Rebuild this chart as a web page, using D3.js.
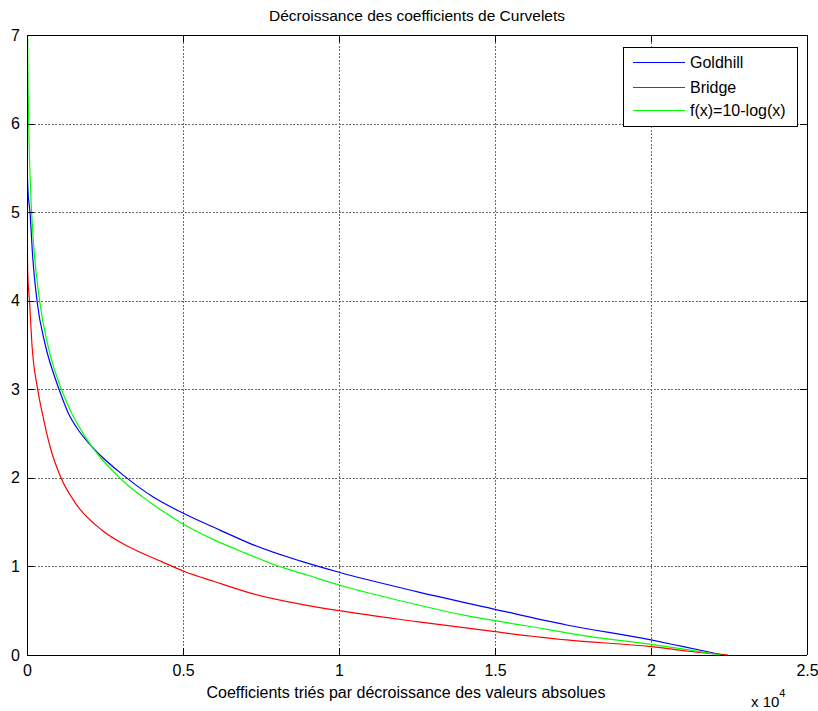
<!DOCTYPE html>
<html>
<head>
<meta charset="utf-8">
<script src="https://cdn.jsdelivr.net/npm/d3@7/dist/d3.min.js"></script>
<style>
html,body{margin:0;padding:0;background:#fff;}
text{font-family:"Liberation Sans",Arial,Helvetica,sans-serif;}
</style>
</head>
<body>
<svg id="chart" width="818" height="711"></svg>
<script>
// ---- data ----
const title = "Décroissance des coefficients de Curvelets";
const xLabel = "Coefficients triés par décroissance des valeurs absolues";
const seriesNames = ["Goldhill", "Bridge", "f(x)=10-log(x)"];
const seriesColors = ["#0000ff", "#ff0000", "#00ff00"];

const goldhillX = [1, 3, 10, 30, 96, 182, 320, 587, 919, 1026, 1325, 1645, 2073, 3195, 3996, 5010, 6186, 7254, 8750, 10000, 12490, 15000, 17297, 20000, 21034, 22310];
const goldhillY = [6.0, 5.6, 5.45, 5.25, 5.0, 4.5, 4.0, 3.5, 3.107, 3.0, 2.73, 2.54, 2.354, 2.0, 1.795, 1.60, 1.41, 1.243, 1.062, 0.934, 0.716, 0.516, 0.339, 0.17, 0.094, 0.0];

const bridgeX = [1, 3, 8, 25, 80, 160, 342, 491, 737, 1090, 1592, 2394, 3248, 4317, 5064, 6000, 7254, 8750, 10000, 12490, 15000, 17297, 20000, 21034, 22470];
const bridgeY = [6.2, 5.5, 4.85, 4.3, 4.0, 3.5, 3.0, 2.73, 2.354, 2.0, 1.695, 1.412, 1.224, 1.054, 0.94, 0.83, 0.69, 0.575, 0.50, 0.377, 0.263, 0.17, 0.094, 0.05, 0.0];

const fX = [1, 3, 10, 20, 50, 100, 200, 400, 700, 1100, 1378, 1800, 3000, 4000, 5000, 6000, 7000, 8000, 9000, 10000, 12000, 14000, 16000, 18000, 20000, 21000, 22250];
const fY = [10.0, 8.9, 7.7, 7.0, 6.09, 5.39, 4.70, 4.01, 3.45, 3.0, 2.77, 2.5, 1.99, 1.71, 1.48, 1.30, 1.15, 1.01, 0.90, 0.79, 0.61, 0.45, 0.33, 0.21, 0.12, 0.07, 0.0];

const xTicks = [0, 5000, 10000, 15000, 20000, 25000];
const xTickLabels = ["0", "0.5", "1", "1.5", "2", "2.5"];
const yTicks = [0, 1, 2, 3, 4, 5, 6, 7];

// ---- layout ----
const L = 27, R = 807, T = 35, B = 655;
const svg = d3.select("#chart");
const x = d3.scaleLinear().domain([0, 25000]).range([L, R]);
const y = d3.scaleLinear().domain([0, 7]).range([B, T]);

// grid
const grid = svg.append("g").attr("stroke", "#6a6a6a").attr("stroke-width", 1).attr("stroke-dasharray", "2,1.5").attr("shape-rendering", "crispEdges");
xTicks.slice(1, -1).forEach(v => grid.append("line").attr("x1", Math.round(x(v))+0.5).attr("x2", Math.round(x(v))+0.5).attr("y1", T).attr("y2", B));
yTicks.slice(1, -1).forEach(v => grid.append("line").attr("x1", L).attr("x2", R).attr("y1", Math.round(y(v))+0.5).attr("y2", Math.round(y(v))+0.5));

// clip
svg.append("clipPath").attr("id", "clip").append("rect").attr("x", L).attr("y", T).attr("width", R-L).attr("height", B-T);

const line = d3.line().x(d => x(d[0])).y(d => y(d[1])).curve(d3.curveMonotoneX);
const series = [
  goldhillX.map((v,i)=>[v, goldhillY[i]]),
  bridgeX.map((v,i)=>[v, bridgeY[i]]),
  fX.map((v,i)=>[v, fY[i]])
];
const plot = svg.append("g").attr("clip-path", "url(#clip)");
series.forEach((s, i) => {
  plot.append("path").datum(s).attr("d", line).attr("fill", "none")
    .attr("stroke", seriesColors[i]).attr("stroke-width", 1.2);
});

// axes box (inward ticks)
const tickLen = 7;
const axB = d3.axisBottom(x).tickValues(xTicks).tickSize(-tickLen).tickFormat((d,i)=>xTickLabels[i]).tickPadding(10);
const axT = d3.axisTop(x).tickValues(xTicks).tickSize(-tickLen).tickFormat("");
const axLft = d3.axisLeft(y).tickValues(yTicks).tickSize(-tickLen).tickFormat(d3.format("d")).tickPadding(7);
const axRgt = d3.axisRight(y).tickValues(yTicks).tickSize(-tickLen).tickFormat("");

function style(g){
  g.select(".domain").attr("stroke", "#000");
  g.selectAll(".tick line").attr("stroke", "#000");
  g.selectAll("text").attr("fill", "#000").style("font-size", "16px").style("font-family", '"Liberation Sans",Arial,sans-serif');
  g.attr("shape-rendering", "crispEdges");
}
svg.append("g").attr("transform", `translate(0,${B})`).call(axB).call(style).call(g=>g.select(".domain").attr("d", `M${L},0H${R}`));
svg.append("g").attr("transform", `translate(0,${T})`).call(axT).call(style).call(g=>g.select(".domain").attr("d", `M${L},0H${R}`));
svg.append("g").attr("transform", `translate(${L},0)`).call(axLft).call(style).call(g=>g.select(".domain").attr("d", `M0,${T}V${B}`));
svg.append("g").attr("transform", `translate(${R},0)`).call(axRgt).call(style).call(g=>g.select(".domain").attr("d", `M0,${T}V${B}`));

// title & labels
svg.append("text").attr("x", 417).attr("y", 21).attr("text-anchor", "middle").style("font-size", "15.5px").text(title);
svg.append("text").attr("x", 406).attr("y", 698).attr("text-anchor", "middle").style("font-size", "16px").text(xLabel);
const ex = svg.append("text").attr("x", 751).attr("y", 707).style("font-size", "15px");
ex.append("tspan").text("x 10");
ex.append("tspan").attr("dy", -10).style("font-size", "11px").text("4");

// legend
const lg = svg.append("g");
lg.append("rect").attr("x", 623.5).attr("y", 47.5).attr("width", 174).attr("height", 79)
  .attr("fill", "#fff").attr("stroke", "#000").attr("shape-rendering", "crispEdges");
const legY = [62, 87, 110];
seriesNames.forEach((n, i) => {
  lg.append("line").attr("x1", 633).attr("x2", 685).attr("y1", legY[i]+0.5).attr("y2", legY[i]+0.5)
    .attr("stroke", seriesColors[i]).attr("stroke-width", 1.2);
  lg.append("text").attr("x", 690).attr("y", legY[i]+6).style("font-size", "16px").text(n);
});
</script>
</body>
</html>
